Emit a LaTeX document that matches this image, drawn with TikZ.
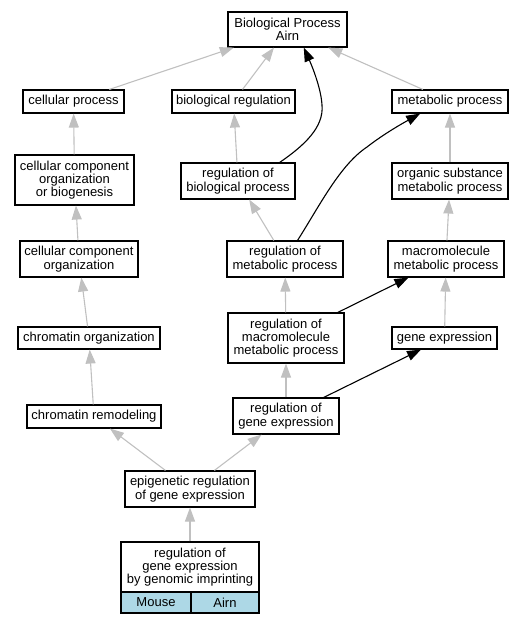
\documentclass[tikz,border=0pt]{standalone}
\usepackage{fontspec}
\setmainfont{Liberation Sans}
\usetikzlibrary{arrows.meta}
\definecolor{edgegray}{RGB}{192,192,192}
\definecolor{cellblue}{RGB}{173,216,230}
\tikzset{
  termbox/.style={draw=black, line width=1.1pt, fill=white, inner sep=0pt, align=center,
    font=\fontsize{13}{13.3}\selectfont},
  isa/.style={draw=edgegray, line width=1.1pt, -{Triangle[length=14pt,width=10pt]}},
  reg/.style={draw=black, line width=1.1pt, -{Triangle[length=14pt,width=10pt]}},
}
\begin{document}
\begin{tikzpicture}[x=1pt,y=-1pt]
\useasboundingbox (0,0) rectangle (524,624);
% nodes
\node[termbox, minimum width=119pt, minimum height=35pt] (bp) at (287.5,29.5) {Biological Process\\Airn};
\node[termbox, minimum width=101pt, minimum height=23pt] (cp) at (73.5,101.5) {cellular process};
\node[termbox, minimum width=123pt, minimum height=23pt] (br) at (233.5,101.5) {biological regulation};
\node[termbox, minimum width=116pt, minimum height=23pt] (mp) at (450,101.5) {metabolic process};
\node[termbox, minimum width=119pt, minimum height=50pt] (ccob) at (74.5,180) {cellular component\\organization\\or biogenesis};
\node[termbox, minimum width=114pt, minimum height=36pt] (rbp) at (238,181) {regulation of\\biological process};
\node[termbox, minimum width=116pt, minimum height=36pt] (osmp) at (450,181) {organic substance\\metabolic process};
\node[termbox, minimum width=118pt, minimum height=36pt] (cco) at (79,259) {cellular component\\organization};
\node[termbox, minimum width=116pt, minimum height=36pt] (rmp) at (285,259) {regulation of\\metabolic process};
\node[termbox, minimum width=116pt, minimum height=36pt] (mmp) at (446,259) {macromolecule\\metabolic process};
\node[termbox, minimum width=142pt, minimum height=22pt] (co) at (89,338) {chromatin organization};
\node[termbox, minimum width=116pt, minimum height=50pt] (rmmp) at (286,338) {regulation of\\macromolecule\\metabolic process};
\node[termbox, minimum width=105pt, minimum height=22pt] (ge) at (444.5,338) {gene expression};
\node[termbox, minimum width=134pt, minimum height=23pt] (cr) at (94,416.5) {chromatin remodeling};
\node[termbox, minimum width=106pt, minimum height=36pt] (rge) at (286,416) {regulation of\\gene expression};
\node[termbox, minimum width=130pt, minimum height=36pt] (erge) at (190,489) {epigenetic regulation\\of gene expression};
\node[termbox, minimum width=138pt, minimum height=50pt] (rgegi) at (190,567) {regulation of\\gene expression\\by genomic imprinting};
\node[termbox, fill=cellblue, minimum width=70pt, minimum height=21pt] (mouse) at (156,602.5) {Mouse};
\node[termbox, fill=cellblue, minimum width=68pt, minimum height=21pt] (airn) at (225,602.5) {Airn};
% is_a edges
\draw[isa] (cp) -- (bp);
\draw[isa] (br) -- (bp);
\draw[isa] (mp) -- (bp);
\draw[isa] (ccob) -- (cp);
\draw[isa] (rbp) -- (br);
\draw[isa] (osmp) -- (mp);
\draw[isa] (cco) -- (ccob);
\draw[isa] (rmp) -- (rbp);
\draw[isa] (mmp) -- (osmp);
\draw[isa] (co) -- (cco);
\draw[isa] (rmmp) -- (rmp);
\draw[isa] (ge) -- (mmp);
\draw[isa] (cr) -- (co);
\draw[isa] (rge) -- (rmmp);
\draw[isa] (erge) -- (cr);
\draw[isa] (erge) -- (rge);
\draw[isa] (rgegi) -- (erge);
% regulates edges
\draw[reg] (rbp.24) .. controls (305,145) and (324,127) .. (322,105) .. controls (321,88) and (312,66) .. (bp.-48.5);
\draw[reg] (rmp.56) .. controls (320,205) and (340,165) .. (367,147) .. controls (385,133) and (405,122) .. (mp.202);
\draw[reg] (rmmp) -- (mmp);
\draw[reg] (rge) -- (ge);
\end{tikzpicture}
\end{document}
